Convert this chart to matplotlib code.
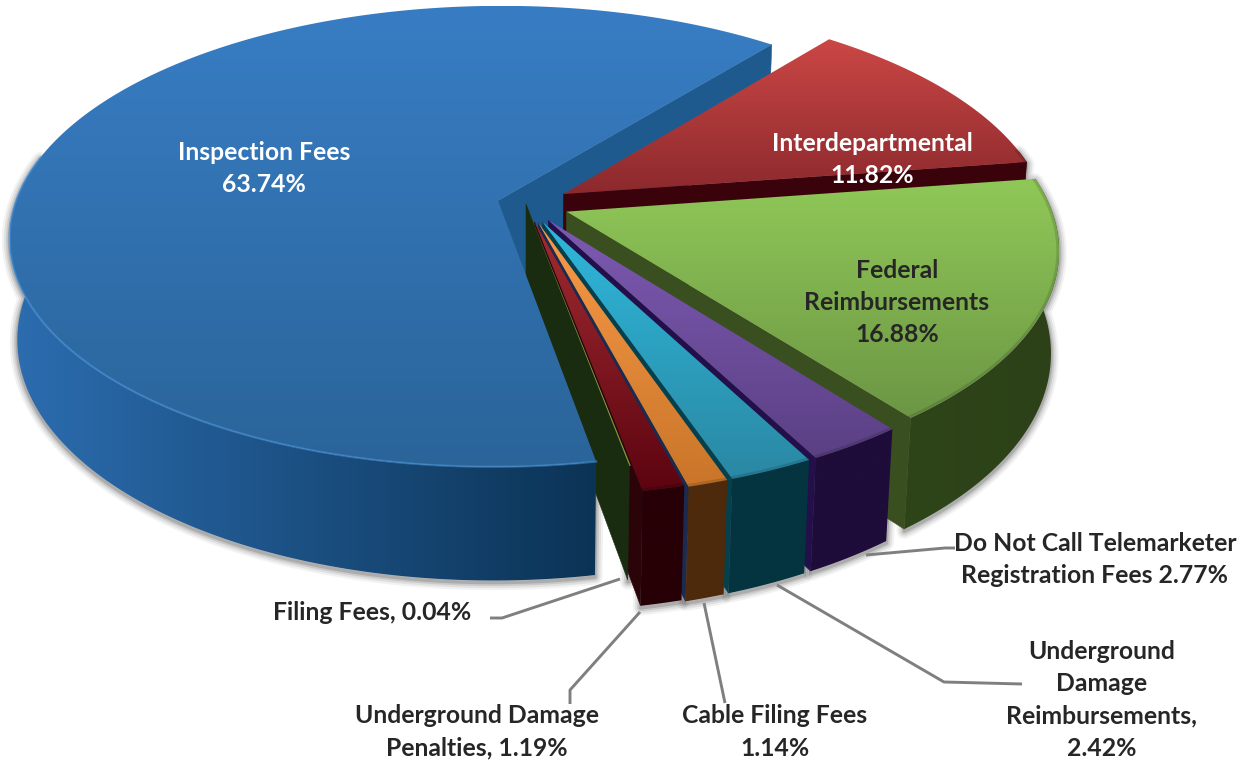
import numpy as np
import matplotlib
matplotlib.use("Agg")
import matplotlib.pyplot as plt
from matplotlib.colors import LinearSegmentedColormap
from matplotlib.patches import Polygon

# Revenue shares, listed clockwise from the top of the pie
names = ["Interdepartmental", "Federal Reimbursements", "Do Not Call", "Underground Damage Reimbursements",
         "Cable Filing Fees", "Underground Damage Penalties", "Filing Fees", "Inspection Fees"]
shares = [11.82, 16.88, 2.77, 2.42, 1.14, 1.19, 0.04, 63.74]

# Pie styling
START_ANGLE = 51.0
explode = [0.09, 0.09, 0.085, 0.085, 0.085, 0.08, 0.0, 0.06]
top_colors = [("#cb4745", "#8c292d"), ("#90c858", "#6c9644"), ("#7d5ab2", "#5b4084"), ("#2fb8dc", "#2a88a3"),
              ("#f99a48", "#c97529"), ("#a32c32", "#5c0410"), ("#9db04e", "#7f9a3c"), ("#387dc4", "#2a6499")]
wall_colors = [("#3a030c", "#3a030c"), ("#2e4419", "#2c4117"), ("#1e0c3a", "#1e0c3a"), ("#04343f", "#04343f"),
               ("#4e2a0c", "#4e2a0c"), ("#260006", "#260006"), ("#13260e", "#13260e"), ("#2c6db0", "#0b3355")]
side_colors = ["#3a030c", "#3a4f20", "#23104a", "#05404c", "#1a2a50", "#2a0408", "#1a2c10", "#1f5a8f"]

# Projection of the pie's ground plane onto the page
CX, CY = 526.0, 204.0
AX, BY = 483.0, 226.0
PERSP, DEPTH, DEPTH_PERSP = 0.155, 102.0, 0.015


def project(x, y, z=0.0):
    w = 1 + PERSP * np.asarray(y) + DEPTH_PERSP * z
    return CX + AX * np.asarray(x) / w, CY + (-BY * np.asarray(y) + DEPTH * z) / w


fig = plt.figure(figsize=(12.49, 7.61), dpi=100)
ax = fig.add_axes([0, 0, 1, 1])
ax.axis("off")
plt.rcParams["font.family"] = ["Lato", "DejaVu Sans"]


def gradient(points, colors, vertical, z):
    pts = np.asarray(points)
    cmap = LinearSegmentedColormap.from_list("g", colors)
    ramp = np.linspace(0, 1, 256).reshape(-1, 1) if vertical else np.linspace(0, 1, 256).reshape(1, -1)
    x0, y0 = pts.min(axis=0)
    x1, y1 = pts.max(axis=0)
    im = ax.imshow(ramp, cmap=cmap, extent=(x0, x1, y1, y0), aspect="auto", zorder=z, interpolation="bilinear")
    im.set_clip_path(Polygon(pts, closed=True, transform=ax.transData))


# Slice geometry derived from the shares
angles = START_ANGLE - np.concatenate([[0], np.cumsum(shares)]) * 3.6
slices = []
for i, share in enumerate(shares):
    t0, t1 = angles[i], angles[i + 1]
    mid = np.radians((t0 + t1) / 2)
    ox, oy = explode[i] * np.cos(mid), explode[i] * np.sin(mid)
    t = np.radians(np.linspace(t0, t1, max(12, int(abs(t1 - t0) * 3))))
    rx, ry = ox + np.cos(t), oy + np.sin(t)
    top = np.column_stack(project(rx, ry))
    apex = np.array(project(ox, oy))
    apex_low = np.array(project(ox, oy, 1.0))
    rim_low = np.column_stack(project(rx, ry, 1.0))
    keep = np.sin(t) < 0.2
    slices.append(dict(top=top, apex=apex, apex_low=apex_low, rim_low=rim_low, keep=keep))


def draw_side(i, z):
    s = slices[i]
    pts = [s["apex"], s["top"][-1], s["rim_low"][-1], s["apex_low"]]
    ax.add_patch(Polygon(pts, closed=True, fc=side_colors[i], ec=side_colors[i], lw=0.4, zorder=z))


def draw_wall(i, z):
    s = slices[i]
    if s["keep"].sum() < 2:
        return
    pts = np.vstack([s["top"][s["keep"]], s["rim_low"][s["keep"]][::-1]])
    gradient(pts, wall_colors[i], False, z)


def draw_top(i, z):
    s = slices[i]
    pts = np.vstack([s["apex"], s["top"]])
    gradient(pts, top_colors[i], True, z)
    rim = s["top"][s["keep"]]
    if len(rim) > 1:
        if i == 7:
            ax.plot(rim[:, 0], rim[:, 1], color="#4a96de", lw=1.6, alpha=0.5, zorder=z + 0.1)
        else:
            clip = Polygon(pts, closed=True, transform=ax.transData)
            line, = ax.plot(rim[:, 0], rim[:, 1], color="#000000", lw=4, alpha=0.13, zorder=z + 0.1)
            line.set_clip_path(clip)


# Soft drop shadow under the extruded walls
for i, s in enumerate(slices):
    if s["keep"].sum() < 2:
        continue
    pts = np.vstack([s["top"][s["keep"]], s["rim_low"][s["keep"]][::-1]]) + [0, 2]
    for lw, a in [(11, 0.05), (8, 0.07), (5, 0.1), (2.5, 0.14)]:
        ax.add_patch(Polygon(pts, closed=True, fc="none", ec="#000000", lw=lw, alpha=a, zorder=1, joinstyle="round"))

# Painter's order, back to front
z = 2
draw_side(7, z); z += 1
for i in range(5):
    draw_side(i, z); z += 1
    draw_wall(i, z); z += 1
    draw_top(i, z); z += 1
draw_side(5, z); z += 1
draw_side(6, z); z += 1
draw_wall(7, z); z += 1
draw_top(7, z); z += 1
draw_top(6, z); z += 1
draw_wall(5, z); z += 1
draw_top(5, z); z += 1

# Leader lines for the labels outside the pie
leaders = [
    ([490, 502, 620], [618, 618, 579]),
    ([640, 570, 570], [612, 690, 704]),
    ([704, 725], [603, 703]),
    ([777, 944, 1022], [585, 682, 684]),
    ([866, 945, 955], [555, 548, 548]),
]
for lx, ly in leaders:
    ax.plot(lx, ly, color="#7f7f7f", lw=2.1, zorder=z, solid_capstyle="butt", solid_joinstyle="round")

# Labels
FS = 17.8
LS = 1.49
kw = dict(ha="center", va="center", fontsize=FS, fontweight="bold", linespacing=LS, zorder=z + 1)
dark = "#262626"
ax.text(264, 168.5, f"{names[7]}\n{shares[7]:.2f}%", color="white", **kw)
ax.text(872, 159.5, f"{names[0]}\n{shares[0]:.2f}%", color="white", **kw)
ax.text(897, 302.5, f"Federal\nReimbursements\n{shares[1]:.2f}%", color=dark, **kw)
ax.text(1095, 559.5, f"Do Not Call Telemarketer\nRegistration Fees {shares[2]:.2f}%", color=dark, **kw)
ax.text(1102, 700, f"Underground\nDamage\nReimbursements,\n{shares[3]:.2f}%", color=dark, **kw)
ax.text(775, 732, f"{names[4]}\n{shares[4]:.2f}%", color=dark, **kw)
ax.text(477, 732, f"Underground Damage\nPenalties, {shares[5]:.2f}%", color=dark, **kw)
ax.text(372, 612, f"{names[6]}, {shares[6]:.2f}%", color=dark, **kw)

ax.set_xlim(0, 1249)
ax.set_ylim(761, 0)
fig.savefig("out.png", dpi=100, facecolor="white")
